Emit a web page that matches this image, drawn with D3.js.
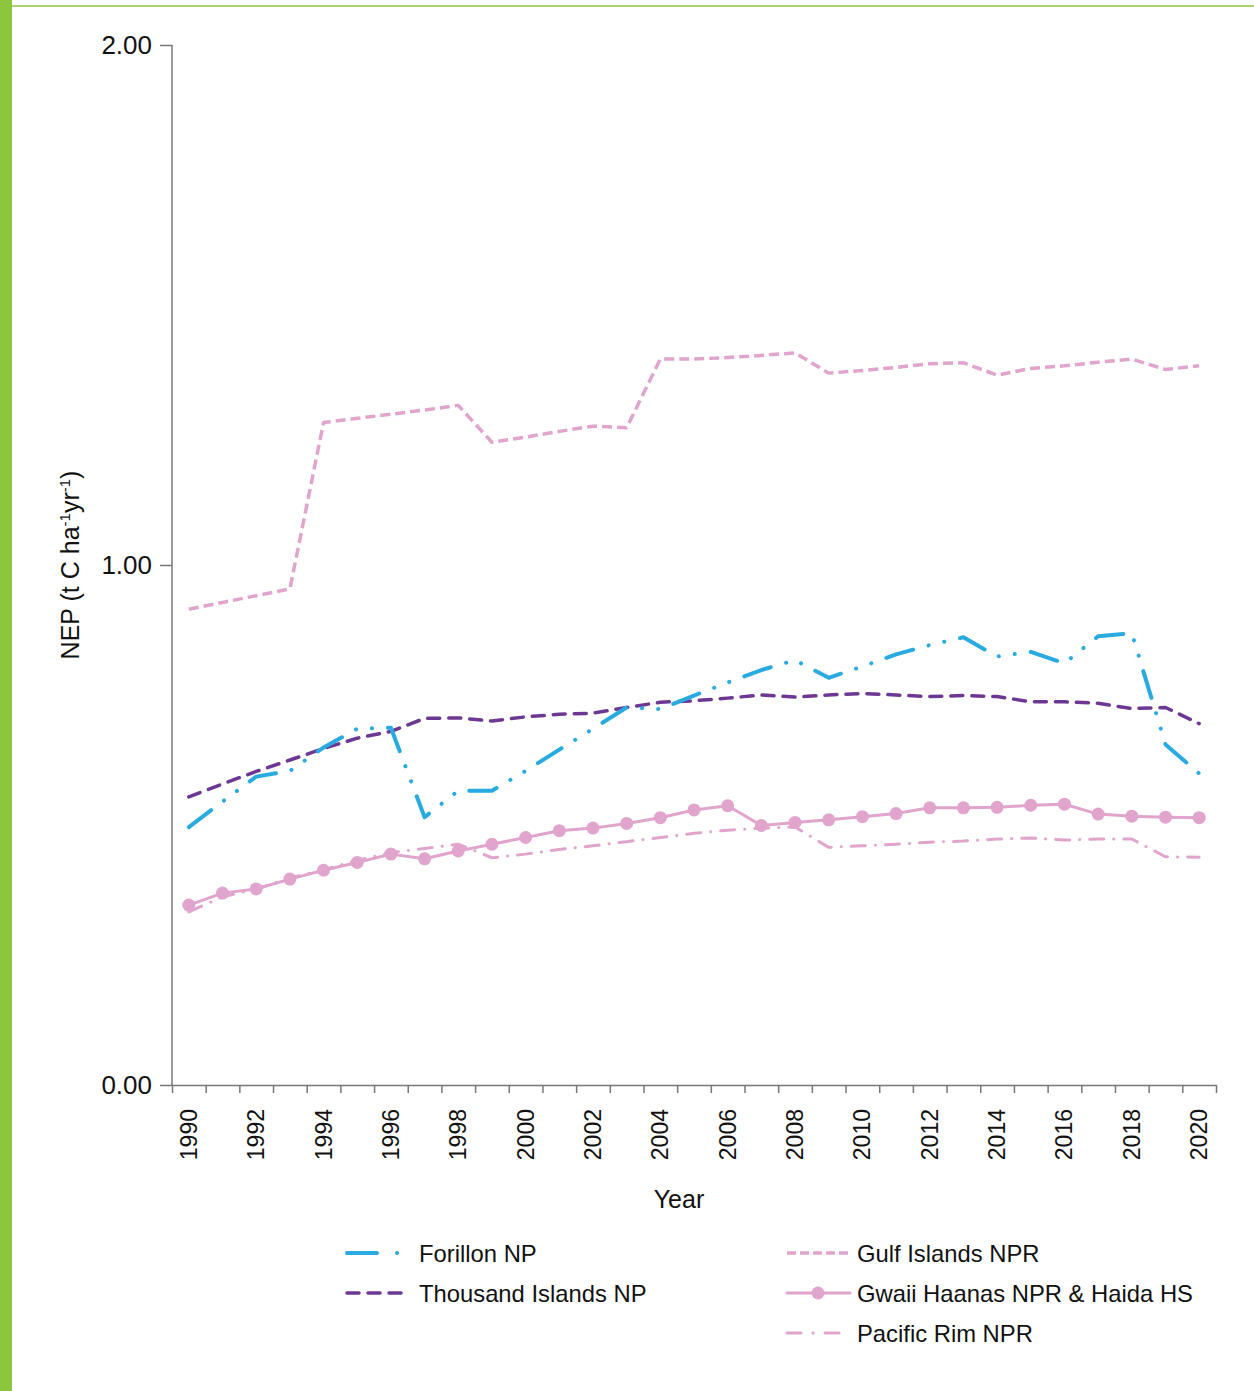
<!DOCTYPE html>
<html>
<head>
<meta charset="utf-8">
<script src="https://cdn.jsdelivr.net/npm/d3@7"></script>
<style>
  body { margin: 0; background: #fff; }
  svg { display: block; font-family: "Liberation Sans", Arial, Helvetica, sans-serif; }
</style>
</head>
<body>
<svg id="chart" width="1254" height="1391"></svg>
<script>
// values (NEP, t C/ha/yr)
const years = d3.range(1990, 2021);
const yTicks = [0, 1, 2];

const forillon = [0.496, 0.545, 0.593, 0.604, 0.649, 0.685, 0.687, 0.515, 0.566, 0.566, 0.604,
  0.645, 0.685, 0.726, 0.723, 0.749, 0.774, 0.798, 0.817, 0.783, 0.805,
  0.828, 0.846, 0.861, 0.824, 0.833, 0.811, 0.863, 0.869, 0.655, 0.599];
const thousandIslands = [0.554, 0.579, 0.603, 0.625, 0.647, 0.667, 0.680, 0.705, 0.706, 0.700, 0.708,
  0.713, 0.715, 0.726, 0.736, 0.739, 0.744, 0.750, 0.746, 0.750, 0.753,
  0.750, 0.747, 0.749, 0.747, 0.737, 0.737, 0.734, 0.724, 0.726, 0.695];
const gulfIslands = [0.915, 0.928, 0.941, 0.954, 1.274, 1.282, 1.290, 1.298, 1.307, 1.236, 1.246,
  1.257, 1.267, 1.264, 1.396, 1.396, 1.399, 1.403, 1.408, 1.369, 1.374,
  1.380, 1.387, 1.389, 1.365, 1.378, 1.383, 1.390, 1.396, 1.376, 1.383];
const gwaiiHaanas = [0.346, 0.369, 0.377, 0.396, 0.413, 0.428, 0.444, 0.435, 0.450, 0.463, 0.476,
  0.489, 0.494, 0.503, 0.514, 0.529, 0.537, 0.499, 0.505, 0.510, 0.516,
  0.522, 0.533, 0.533, 0.534, 0.538, 0.540, 0.521, 0.517, 0.515, 0.514];
const pacificRim = [0.333, 0.362, 0.377, 0.398, 0.414, 0.432, 0.447, 0.455, 0.463, 0.437, 0.444,
  0.453, 0.460, 0.468, 0.476, 0.484, 0.490, 0.494, 0.496, 0.457, 0.460,
  0.463, 0.467, 0.469, 0.473, 0.475, 0.471, 0.473, 0.473, 0.439, 0.438];

const blue = "#29abe2", purple = "#6d3894", pink = "#e0a4cd";

const series = [
  {name: "Gulf Islands NPR", values: gulfIslands, color: pink, width: 3.5, dash: "10,5", cap: "butt"},
  {name: "Gwaii Haanas NPR & Haida HS", values: gwaiiHaanas, color: pink, width: 3, dash: null, cap: "round", dots: true},
  {name: "Pacific Rim NPR", values: pacificRim, color: pink, width: 3, dash: "14,10,0.1,10", cap: "round"},
  {name: "Thousand Islands NP", values: thousandIslands, color: purple, width: 3.5, dash: "12,9", cap: "round"},
  {name: "Forillon NP", values: forillon, color: blue, width: 4, dash: "28,16,0.1,16,0.1,16", cap: "round"}
];

const svg = d3.select("#chart");

// page decoration: green side bar and top rule
svg.append("rect").attr("x", 0).attr("y", 0).attr("width", 12).attr("height", 1391).attr("fill", "#8cc63f");
svg.append("line").attr("x1", 12).attr("x2", 1254).attr("y1", 6).attr("y2", 6)
  .attr("stroke", "#8cc63f").attr("stroke-width", 1.5);

const x = d3.scaleLinear().domain([1989.5, 2020.5]).range([172, 1216]);
const y = d3.scaleLinear().domain([0, 2]).range([1085, 45]);

// y axis
const yAxis = svg.append("g").attr("transform", "translate(172,0)")
  .call(d3.axisLeft(y).tickValues(yTicks).tickFormat(d3.format(".2f")).tickSize(12).tickPadding(8));
yAxis.select(".domain").attr("stroke", "#777").attr("stroke-width", 1.5).attr("d", "M0," + y(2) + "V" + y(0));
yAxis.selectAll(".tick line").attr("stroke", "#777").attr("stroke-width", 1.5);
yAxis.selectAll(".tick text").attr("font-size", 26).attr("fill", "#111").attr("font-family", null);

// x axis: tick marks at year boundaries
const xAxis = svg.append("g").attr("transform", "translate(0,1085)")
  .call(d3.axisBottom(x).tickValues(d3.range(1989.5, 2021, 1)).tickFormat("").tickSize(8).tickSizeOuter(0));
xAxis.select(".domain").attr("stroke", "#777").attr("stroke-width", 1.5);
xAxis.selectAll(".tick line").attr("stroke", "#777").attr("stroke-width", 1.5);

// year labels, rotated
svg.append("g").selectAll("text")
  .data(years.filter(d => d % 2 === 0))
  .join("text")
  .attr("transform", d => "translate(" + (x(d) + 8) + ",1109) rotate(-90)")
  .attr("text-anchor", "end")
  .attr("font-size", 23)
  .attr("fill", "#111")
  .text(d => d);

// axis titles
svg.append("text").attr("x", 679).attr("y", 1208).attr("text-anchor", "middle")
  .attr("font-size", 25).attr("fill", "#111").text("Year");

const yTitle = svg.append("text")
  .attr("transform", "translate(79,565) rotate(-90)")
  .attr("text-anchor", "middle").attr("font-size", 25).attr("fill", "#111");
yTitle.append("tspan").text("NEP (t C ha");
yTitle.append("tspan").attr("font-size", 15).attr("dy", -9).text("-1");
yTitle.append("tspan").attr("dy", 9).text("yr");
yTitle.append("tspan").attr("font-size", 15).attr("dy", -9).text("-1");
yTitle.append("tspan").attr("dy", 9).text(")");

// lines
const line = d3.line().x((d, i) => x(years[i])).y(d => y(d));

series.forEach(s => {
  svg.append("path")
    .datum(s.values)
    .attr("fill", "none")
    .attr("stroke", s.color)
    .attr("stroke-width", s.width)
    .attr("stroke-dasharray", s.dash)
    .attr("stroke-linecap", s.cap)
    .attr("stroke-linejoin", "round")
    .attr("d", line);
  if (s.dots) {
    svg.append("g").selectAll("circle")
      .data(s.values)
      .join("circle")
      .attr("cx", (d, i) => x(years[i]))
      .attr("cy", d => y(d))
      .attr("r", 6.5)
      .attr("fill", s.color);
  }
});

// legend
const legendItems = [
  {s: series[4], lx: 347, ly: 1253},
  {s: series[3], lx: 347, ly: 1293},
  {s: series[0], lx: 787, ly: 1253},
  {s: series[1], lx: 787, ly: 1293},
  {s: series[2], lx: 787, ly: 1333}
];
const legendDash = {"Forillon NP": "30,20,0.1,100", "Thousand Islands NP": "12,9", "Gulf Islands NPR": "9,4",
  "Gwaii Haanas NPR & Haida HS": null, "Pacific Rim NPR": "14,12,0.1,12"};

const legend = svg.append("g");
legendItems.forEach(d => {
  legend.append("line")
    .attr("x1", d.lx).attr("x2", d.lx + 63).attr("y1", d.ly).attr("y2", d.ly)
    .attr("stroke", d.s.color).attr("stroke-width", d.s.width)
    .attr("stroke-dasharray", legendDash[d.s.name])
    .attr("stroke-linecap", d.s.cap);
  if (d.s.dots) {
    legend.append("circle").attr("cx", d.lx + 31).attr("cy", d.ly).attr("r", 6.5).attr("fill", d.s.color);
  }
  legend.append("text")
    .attr("x", d.lx + (d.lx < 500 ? 72 : 70)).attr("y", d.ly).attr("dy", "0.36em")
    .attr("font-size", 23.8).attr("fill", "#111")
    .text(d.s.name);
});
</script>
</body>
</html>
